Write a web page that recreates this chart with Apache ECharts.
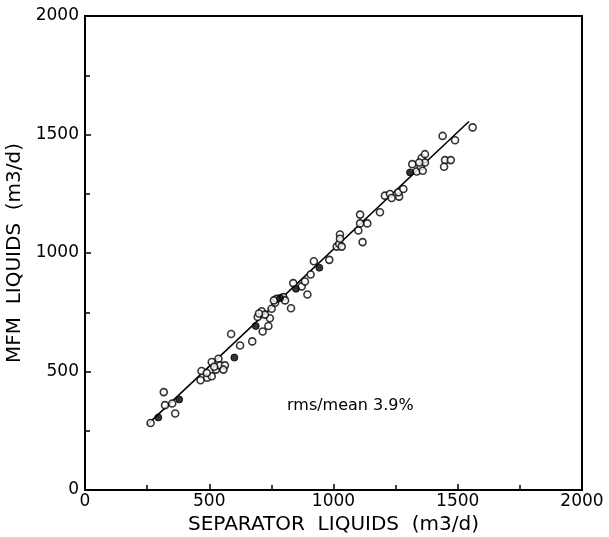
<!DOCTYPE html>
<html>
<head>
<meta charset="utf-8">
<script src="https://cdn.jsdelivr.net/npm/echarts@6/dist/echarts.min.js"></script>
<style>
html,body{margin:0;padding:0;background:#fff;}
#chart{width:609px;height:537px;}
</style>
</head>
<body>
<div id="chart"></div>
<script>
// Axis ranges and ticks
var axisMin = 0;
var axisMax = 2000;
var tickStep = 500;

// Open-circle measurements [separator, mfm] (m3/d)
var openPoints = [
  [264,283],[322,358],[317,413],[351,365],[363,323],
  [465,463],[469,502],[492,474],[510,480],[490,494],[510,540],[537,554],[527,508],[543,526],[563,526],[557,508],[520,520],
  [624,610],[588,658],[673,627],[715,669],[738,692],[744,725],[695,730],[711,754],[724,740],[700,745],
  [751,765],[765,790],[771,807],[760,800],[798,814],[805,800],[829,767],
  [838,873],[872,859],[885,880],[895,825],[908,909],[921,965],[983,971],
  [1013,1027],[1023,1039],[1033,1027],[1026,1078],[1026,1060],[1117,1046],[1100,1095],[1107,1125],[1136,1125],[1107,1162],
  [1187,1172],[1207,1242],[1227,1249],[1234,1232],[1264,1238],[1261,1256],[1281,1270],
  [1317,1375],[1335,1344],[1351,1364],[1359,1347],[1355,1401],[1368,1417],[1368,1382],[1345,1382],
  [1439,1494],[1449,1392],[1472,1392],[1445,1364],[1489,1476],[1560,1530]
];
// Filled (overlapping) points
var filledPoints = [
  [295,306],[379,382],[601,559],[687,692],[785,810],[849,849],[943,938],[1308,1340]
];
// Fitted line endpoints
var fitX = [250, 1545];
var fitY = [275, 1555];

var annotation = 'rms/mean 3.9%';
var xTitle = 'SEPARATOR  LIQUIDS  (m3/d)';
var yTitle = 'MFM  LIQUIDS  (m3/d)';

var fitLine = fitX.map(function(x,i){return [x, fitY[i]];});
var FONT = 'DejaVu Sans';

function makeAxis(name, isX){
  return {
    type:'value', min:axisMin, max:axisMax, interval:tickStep,
    name:name, nameLocation:'middle', nameGap: isX ? 17 : 47,
    nameTextStyle:{color:'#000', fontSize:20, fontFamily:FONT},
    axisLine:{show:true, lineStyle:{color:'#000', width:2}},
    axisTick:{show:true, inside:true, length:6, lineStyle:{color:'#000', width:1.5}},
    minorTick:{show:true, splitNumber:2, length:5, lineStyle:{color:'#000', width:1.5}},
    splitLine:{show:false},
    minorSplitLine:{show:false},
    axisLabel:{color:'#000', fontSize:17, fontFamily:FONT, margin: isX ? 3 : 6,
      formatter:function(v){return String(v);}}
  };
}

var chart = echarts.init(document.getElementById('chart'));
chart.setOption({
  animation:false,
  backgroundColor:'#fff',
  grid:{left:85, right:27, top:16, bottom:47, containLabel:false, outerBoundsMode:'none',
        show:true, borderColor:'#000', borderWidth:2},
  xAxis: makeAxis(xTitle, true),
  yAxis: makeAxis(yTitle, false),
  series:[
    {type:'line', data:fitLine, showSymbol:false, symbol:'none',
     lineStyle:{color:'#000', width:1.6}, z:2},
    {type:'scatter', data:openPoints, symbol:'circle', symbolSize:7,
     itemStyle:{color:'#fff', borderColor:'#000', borderWidth:1.6}, z:3},
    {type:'scatter', data:filledPoints, symbol:'circle', symbolSize:7,
     itemStyle:{color:'#000', borderColor:'#000', borderWidth:1}, z:4}
  ],
  graphic:[
    {type:'text', left:287, top:398,
     style:{text:annotation, fill:'#000', fontSize:16, fontFamily:FONT}}
  ]
});
</script>
</body>
</html>
